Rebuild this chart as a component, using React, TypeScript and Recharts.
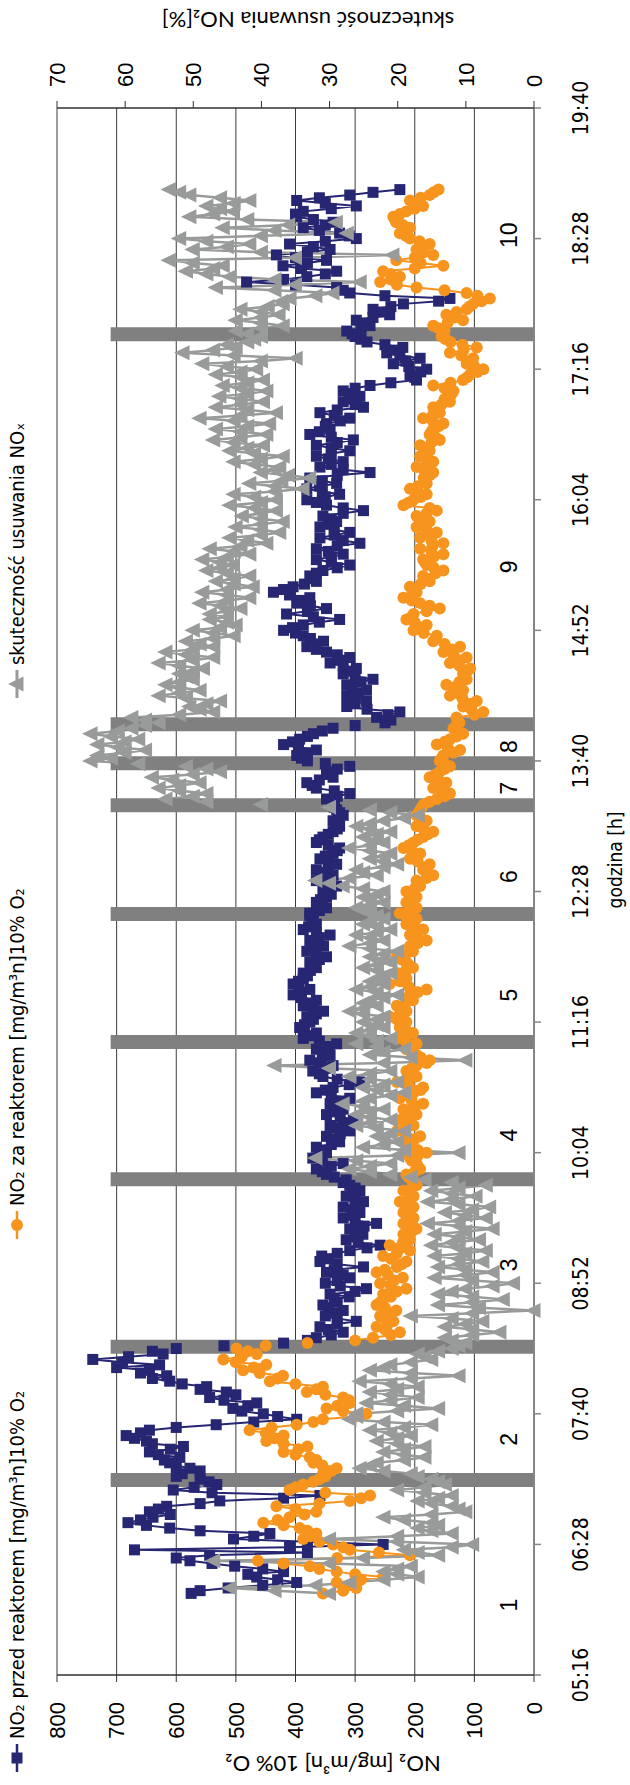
import React from 'react';
import { ComposedChart, Line, XAxis, YAxis, CartesianGrid, ReferenceLine, ReferenceDot } from 'recharts';

// time in minutes after midnight
const minutes = [
  361, 362.5, 364, 365.5, 367, 368.5, 370, 371.5, 373, 374.5, 376, 377.5, 379, 380.5, 382, 383.5, 385, 386.5, 388, 389.5,
  391, 392.5, 394, 395.5, 397, 398.5, 400, 401.5, 403, 404.5, 406, 407.5, 409, 410.5, 412, 413.5, 415, 416.5, 418, 419.5,
  421, 422.5, 424, 425.5, 427, 428.5, 430, 431.5, 433, 434.5, 436, 437.5, 439, 440.5, 442, 443.5, 445, 446.5, 448, 449.5,
  451, 452.5, 454, 455.5, 457, 458.5, 460, 461.5, 463, 464.5, 466, 467.5, 469, 470.5, 472, 473.5, 475, 476.5, 478, 479.5,
  481, 482.5, 484, 485.5, 487, 488.5, 490, 491.5, 493, 494.5, 496, 497.5, 499, 500.5, 502, 503.5, 505, 506.5, 508, 509.5,
  511, 512.5, 514, 515.5, 517, 518.5, 520, 521.5, 523, 524.5, 526, 527.5, 529, 530.5, 532, 533.5, 535, 536.5, 538, 539.5,
  541, 542.5, 544, 545.5, 547, 548.5, 550, 551.5, 553, 554.5, 556, 557.5, 559, 560.5, 562, 563.5, 565, 566.5, 568, 569.5,
  571, 572.5, 574, 575.5, 577, 578.5, 580, 581.5, 583, 584.5, 586, 587.5, 589, 590.5, 592, 593.5, 595, 596.5, 598, 599.5,
  601, 602.5, 604, 605.5, 607, 608.5, 610, 611.5, 613, 614.5, 616, 617.5, 619, 620.5, 622, 623.5, 625, 626.5, 628, 629.5,
  631, 632.5, 634, 635.5, 637, 638.5, 640, 641.5, 643, 644.5, 646, 647.5, 649, 650.5, 652, 653.5, 655, 656.5, 658, 659.5,
  661, 662.5, 664, 665.5, 667, 668.5, 670, 671.5, 673, 674.5, 676, 677.5, 679, 680.5, 682, 683.5, 685, 686.5, 688, 689.5,
  691, 692.5, 694, 695.5, 697, 698.5, 700, 701.5, 703, 704.5, 706, 707.5, 709, 710.5, 712, 713.5, 715, 716.5, 718, 719.5,
  721, 722.5, 724, 725.5, 727, 728.5, 730, 731.5, 733, 734.5, 736, 737.5, 739, 740.5, 742, 743.5, 745, 746.5, 748, 749.5,
  751, 752.5, 754, 755.5, 757, 758.5, 760, 761.5, 763, 764.5, 766, 767.5, 769, 770.5, 772, 773.5, 775, 776.5, 778, 779.5,
  781, 782.5, 784, 785.5, 787, 788.5, 790, 791.5, 793, 794.5, 796, 797.5, 799, 800.5, 802, 803.5, 805, 806.5, 808, 809.5,
  811, 812.5, 814, 815.5, 817, 818.5, 820, 821.5, 823, 824.5, 826, 827.5, 829, 830.5, 832, 833.5, 835, 836.5, 838, 839.5,
  841, 842.5, 844, 845.5, 847, 848.5, 850, 851.5, 853, 854.5, 856, 857.5, 859, 860.5, 862, 863.5, 865, 866.5, 868, 869.5,
  871, 872.5, 874, 875.5, 877, 878.5, 880, 881.5, 883, 884.5, 886, 887.5, 889, 890.5, 892, 893.5, 895, 896.5, 898, 899.5,
  901, 902.5, 904, 905.5, 907, 908.5, 910, 911.5, 913, 914.5, 916, 917.5, 919, 920.5, 922, 923.5, 925, 926.5, 928, 929.5,
  931, 932.5, 934, 935.5, 937, 938.5, 940, 941.5, 943, 944.5, 946, 947.5, 949, 950.5, 952, 953.5, 955, 956.5, 958, 959.5,
  961, 962.5, 964, 965.5, 967, 968.5, 970, 971.5, 973, 974.5, 976, 977.5, 979, 980.5, 982, 983.5, 985, 986.5, 988, 989.5,
  991, 992.5, 994, 995.5, 997, 998.5, 1000, 1001.5, 1003, 1004.5, 1006, 1007.5, 1009, 1010.5, 1012, 1013.5, 1015, 1016.5, 1018, 1019.5,
  1021, 1022.5, 1024, 1025.5, 1027, 1028.5, 1030, 1031.5, 1033, 1034.5, 1036, 1037.5, 1039, 1040.5, 1042, 1043.5, 1045, 1046.5, 1048, 1049.5,
  1051, 1052.5, 1054, 1055.5, 1057, 1058.5, 1060, 1061.5, 1063, 1064.5, 1066, 1067.5, 1069, 1070.5, 1072, 1073.5, 1075, 1076.5, 1078, 1079.5,
  1081, 1082.5, 1084, 1085.5, 1087, 1088.5, 1090, 1091.5, 1093, 1094.5, 1096, 1097.5, 1099, 1100.5, 1102, 1103.5, 1105, 1106.5, 1108, 1109.5,
  1111, 1112.5, 1114, 1115.5, 1117, 1118.5, 1120, 1121.5, 1123, 1124.5, 1126, 1127.5, 1129, 1130.5, 1132, 1133.5, 1135,
];

// NO2 before reactor [mg/m3n] 10% O2
const no2Before = [
  575, 560, 513, 455, 398, 430, 465, 480, 420, 455, 502, 540, 577, 600, 544, 380, 670, 410, 253, 380,
  504, 470, 443, 560, 611, 650, 681, 660, 639, 610, 645, 630, 616, 560, 527, 420, 359, 540, 605, 570,
  532, 545, 560, 600, 590, 560, 577, 600, 611, 620, 594, 630, 645, 610, 588, 640, 650, 670, 684, 660,
  645, 600, 533, 470, 398, 430, 454, 490, 505, 480, 465, 520, 544, 500, 516, 560, 549, 590, 611, 640,
  616, 660, 645, 700, 628, 690, 740, 680, 622, 640, 600, 520, 420, 380, 365, 340, 320, 345, 359, 330,
  298, 330, 350, 335, 320, 345, 354, 330, 335, 310, 342, 300, 281, 325, 350, 330, 309, 320, 348, 335,
  286, 330, 359, 345, 356, 330, 309, 280, 258, 295, 315, 300, 287, 295, 309, 285, 264, 300, 320, 305,
  292, 305, 320, 300, 286, 300, 315, 305, 292, 300, 309, 320, 315, 335, 348, 355, 365, 340, 320, 355,
  371, 360, 348, 355, 365, 340, 326, 335, 348, 325, 309, 330, 342, 320, 303, 325, 348, 335, 320, 330,
  342, 325, 309, 340, 365, 350, 337, 310, 292, 330, 354, 360, 371, 350, 337, 360, 376, 355, 342, 350,
  365, 345, 331, 360, 387, 375, 365, 385, 393, 385, 376, 370, 381, 365, 353, 370, 387, 380, 365, 390,
  404, 390, 376, 395, 404, 395, 387, 380, 387, 375, 365, 372, 376, 360, 348, 365, 381, 370, 353, 365,
  376, 360, 342, 365, 387, 378, 365, 372, 370, 376, 376, 360, 348, 355, 365, 358, 348, 340, 354, 345,
  331, 350, 365, 350, 337, 350, 365, 345, 331, 345, 359, 350, 337, 330, 326, 345, 365, 360, 354, 345,
  337, 330, 326, 333, 337, 328, 320, 326, 331, 335, 340, 335, 348, 330, 309, 335, 365, 372, 381, 360,
  337, 342, 348, 330, 309, 350, 380, 390, 398, 380, 365, 395, 420, 405, 393, 380, 370, 355, 337, 300,
  250, 240, 264, 245, 225, 280, 314, 300, 281, 300, 314, 295, 281, 305, 314, 290, 270, 300, 320, 310,
  298, 320, 342, 325, 309, 330, 348, 365, 381, 370, 353, 375, 387, 400, 420, 405, 387, 360, 326, 370,
  415, 380, 348, 375, 398, 390, 376, 410, 437, 420, 404, 385, 365, 370, 376, 365, 354, 330, 309, 340,
  365, 340, 320, 345, 365, 330, 292, 320, 359, 335, 309, 335, 359, 345, 331, 340, 354, 320, 286, 320,
  348, 365, 381, 350, 326, 355, 381, 360, 331, 355, 376, 330, 275, 320, 359, 340, 320, 345, 365, 340,
  309, 340, 365, 330, 303, 340, 376, 360, 342, 350, 348, 325, 309, 335, 359, 330, 286, 300, 320, 305,
  292, 310, 320, 300, 275, 240, 197, 200, 208, 190, 180, 210, 236, 215, 191, 225, 247, 235, 220, 250,
  280, 290, 300, 305, 314, 290, 275, 285, 298, 270, 242, 255, 270, 240, 219, 160, 141, 250, 309, 320,
  331, 400, 482, 420, 381, 350, 331, 390, 421, 380, 348, 400, 432, 380, 342, 370, 410, 350, 298, 310,
  326, 360, 387, 350, 337, 370, 398, 400, 387, 340, 298, 350, 398, 360, 309, 270, 225,
];

// NO2 after reactor [mg/m3n] 10% O2
const no2After = [
  354, 320, 298, 310, 331, 290, 253, 300, 331, 360, 376, 420, 463, 330, 208, 260, 309, 320, 337, 360,
  387, 375, 365, 380, 393, 420, 454, 430, 410, 385, 365, 400, 432, 360, 309, 290, 275, 350, 410, 400,
  387, 370, 360, 350, 354, 340, 331, 355, 370, 365, 376, 400, 420, 395, 380, 420, 449, 435, 420, 450,
  477, 440, 398, 370, 354, 300, 281, 320, 348, 330, 309, 310, 320, 350, 381, 365, 354, 400, 443, 430,
  421, 460, 488, 470, 449, 500, 521, 490, 465, 480, 499, 450, 380, 300, 270, 240, 225, 250, 264, 245,
  236, 250, 258, 240, 231, 250, 264, 258, 253, 240, 253, 230, 214, 240, 258, 235, 220, 245, 264, 250,
  230, 222, 214, 240, 253, 230, 208, 225, 242, 220, 208, 212, 219, 205, 197, 210, 219, 208, 202, 210,
  219, 210, 202, 215, 225, 210, 202, 210, 219, 205, 197, 200, 205, 210, 214, 200, 191, 195, 197, 205,
  208, 195, 180, 195, 208, 215, 219, 200, 191, 215, 230, 215, 202, 215, 225, 210, 197, 205, 219, 200,
  186, 205, 225, 210, 202, 190, 186, 210, 230, 210, 197, 205, 214, 205, 197, 180, 175, 190, 197, 205,
  214, 205, 197, 215, 230, 215, 203, 215, 225, 220, 214, 230, 242, 225, 214, 222, 230, 215, 203, 210,
  208, 195, 180, 210, 242, 225, 214, 222, 230, 215, 203, 210, 214, 222, 230, 215, 203, 206, 208, 195,
  180, 195, 208, 195, 186, 200, 214, 205, 197, 215, 225, 210, 197, 205, 214, 205, 197, 205, 214, 200,
  191, 195, 197, 180, 169, 178, 186, 180, 175, 195, 208, 200, 191, 205, 219, 210, 202, 195, 186, 178,
  169, 185, 197, 188, 180, 190, 197, 193, 191, 188, 185, 175, 163, 150, 141, 155, 169, 158, 147, 160,
  175, 165, 158, 150, 141, 150, 158, 155, 152, 135, 124, 145, 163, 150, 141, 130, 119, 128, 135, 130,
  125, 128, 130, 100, 85, 105, 119, 105, 96, 120, 141, 130, 119, 135, 147, 125, 113, 116, 119, 112,
  107, 125, 141, 125, 113, 135, 152, 138, 124, 150, 169, 165, 163, 185, 202, 190, 180, 200, 214, 205,
  202, 180, 158, 175, 191, 205, 219, 205, 197, 202, 208, 190, 175, 180, 186, 165, 152, 168, 180, 183,
  186, 168, 152, 172, 191, 170, 152, 172, 191, 175, 163, 180, 197, 185, 175, 188, 197, 180, 163, 175,
  219, 210, 202, 190, 180, 195, 208, 195, 180, 183, 185, 175, 169, 185, 197, 180, 169, 180, 191, 185,
  175, 183, 191, 172, 158, 165, 175, 172, 169, 160, 152, 170, 186, 170, 158, 163, 169, 155, 141, 150,
  141, 138, 135, 150, 169, 140, 119, 112, 107, 95, 85, 100, 113, 108, 102, 122, 141, 118, 96, 120,
  140, 148, 155, 152, 150, 160, 169, 145, 119, 133, 147, 130, 113, 108, 102, 88, 74, 95, 113, 150,
  197, 230, 258, 240, 225, 240, 253, 200, 152, 190, 231, 200, 169, 185, 197, 186, 175, 192, 208, 215,
  225, 216, 208, 220, 231, 233, 236, 225, 214, 200, 186, 197, 208, 190, 175, 168, 160,
];

// NOx removal efficiency [%]
const efficiency = [
  30, 38, 44.6, 32, 27, 22, 17, 20, 22, 20, 18, 30, 47, 25, 14, 17, 19, 12, 9, 20,
  30, 20, 12, 15, 17, 14, 15, 19, 22, 15, 10, 11, 12, 15, 17, 14, 12, 16, 20, 16,
  13, 14, 15, 17, 18, 22, 25.5, 24, 23, 19, 16, 19, 22, 19, 16, 20, 23, 20, 18, 21,
  24, 19, 15, 22, 27, 26, 26, 20, 14, 19, 24.5, 21, 17, 21, 24, 20, 17, 21, 25.5, 18,
  11, 18, 24, 22, 21, 18, 15, 16, 17, 14, 12, 11, 10, 12, 13, 9, 5, 9, 13, 10,
  7.5, 12, 18, 9, 0, 8, 14, 9, 4.5, 9, 14, 12, 10, 6, 3, 9, 14.5, 10, 6, 10,
  14, 11, 7.5, 11, 14.5, 10, 7, 11, 15, 12, 8, 11, 14.5, 10, 6, 11, 15.5, 11, 7, 10,
  13, 9, 6.5, 11, 15.5, 12, 8.5, 12, 15, 11, 7, 12, 16, 18, 21, 24, 27, 24, 21, 26,
  32, 20, 11, 19, 25, 22, 20, 22, 23, 21, 19, 23, 26, 24, 21, 24, 26, 24, 22, 25,
  28, 25, 24, 21, 19, 23, 25, 22, 20, 24, 27, 24, 21, 30, 38, 22, 10, 18, 24, 22,
  19, 23, 26, 23, 21, 24, 26, 24, 22, 23, 25, 23, 22, 25, 27, 25, 23, 25, 24, 22,
  20, 23, 26, 24, 22, 24, 23, 22, 21, 23, 25, 23, 21, 22, 24, 22, 20, 24, 27, 24,
  22, 24, 26, 23, 21, 23, 25, 24, 22, 23, 24, 25, 26, 24, 22, 24, 25, 23, 22, 25,
  28, 30, 32, 27, 23, 25, 26, 22, 20, 22, 24, 22, 21, 24, 27, 24, 22, 23, 25, 23,
  21, 24, 26, 24, 22, 19, 17, 21, 24, 30, 40, 48, 54, 50, 48, 52, 55, 52, 49, 53,
  56, 50, 46, 48, 51, 58, 65, 62, 64, 60, 57, 61, 64, 60, 58, 62, 65, 61, 59, 57,
  55, 57, 59, 52, 47, 49, 50.5, 48, 46, 51, 55, 52, 49, 52, 54, 52, 50, 51, 52, 50,
  48.5, 52, 55, 50, 47, 51, 54, 50, 47, 49, 51, 47, 44, 47, 50, 46, 43.7, 45, 47.5, 45,
  47.5, 45, 43, 46, 49, 45, 41.7, 45, 48.6, 45, 41.2, 44, 46.6, 44, 41.7, 45, 48, 46, 44.1, 46,
  48.6, 45, 41.7, 44, 47.5, 43, 39.2, 42, 44.6, 40, 37.3, 40, 43.7, 40, 36.8, 40, 42.8, 40, 37.8, 41,
  44.6, 40, 37.8, 41, 44, 38, 33.9, 38, 41.7, 37, 32.9, 36, 40, 38, 37.3, 41, 44, 40, 36.8, 41,
  44.6, 42, 39.7, 44, 47, 43, 39.2, 43, 46.6, 42, 38.8, 44, 49, 43, 37.8, 42, 46.6, 43, 39.7, 43,
  46.1, 42, 39.2, 43, 45.6, 42, 39.7, 43, 46.6, 43, 40.7, 45, 48.6, 40, 34.9, 44, 51.5, 47, 43.7, 45,
  42, 41, 40, 42, 43.7, 40, 36.8, 40, 43.7, 40, 37.4, 40, 43, 39, 36.8, 37, 35.8, 32, 29.5, 38,
  46.6, 35, 25.5, 38, 44.6, 48, 51, 47, 45.6, 50, 53.5, 35, 20.7, 40, 50, 45, 41.7, 48, 52, 40,
  27.4, 38, 45.6, 36, 29, 42, 50.5, 47, 44.1, 46, 48, 44, 41.7, 46, 50.5, 52, 53.5,
];

const timeTicks = [316, 388, 460, 532, 604, 676, 748, 820, 892, 964, 1036, 1108, 1180];
const no2Ticks = [0, 100, 200, 300, 400, 500, 600, 700, 800];
const effTicks = [0, 10, 20, 30, 40, 50, 60, 70];

// phase separators (time in minutes) and their height on the NO2 axis
const separatorTimes = [423.5, 497, 589.3, 665, 735.6, 795.5, 818.7, 840.2, 1055.2];
const separatorTop = 710;

const phaseLabels = ['1', '2', '3', '4', '5', '6', '7', '8', '9', '10'];
const phaseTimes = [354.6, 446, 542.1, 613.7, 690.9, 756.2, 804.9, 827.9, 927, 1109.9];
const phaseLabelLevel = 43;

const NAVY = '#262673';
const ORANGE = '#F7941D';
const GRAY = '#999B9B';
const BAR = '#808080';
const GRID = '#3C3C3C';

const NUM_FONT = "'Liberation Sans', Arial, sans-serif";
const NARROW_FONT = "'Liberation Sans Narrow', 'DejaVu Sans Condensed', 'Liberation Sans', sans-serif";
const TITLE_FONT = "Lato, 'Liberation Sans', sans-serif";

const data = minutes.map((t, i) => ({
  t,
  before: no2Before[i],
  after: no2After[i],
  eff: efficiency[i],
}));

const fmtTime = (m: number) => {
  const h = Math.floor(m / 60);
  const mm = Math.round(m - h * 60);
  return `${String(h).padStart(2, '0')}:${String(mm).padStart(2, '0')}`;
};

function SquareDot(props: any) {
  const { cx, cy, index } = props;
  if (cx == null || cy == null) return <g key={`s${index}`} />;
  return <rect key={`s${index}`} x={cx - 5.5} y={cy - 5.5} width={11} height={11} fill={NAVY} />;
}

function CircleDot(props: any) {
  const { cx, cy, index } = props;
  if (cx == null || cy == null) return <g key={`c${index}`} />;
  return <circle key={`c${index}`} cx={cx} cy={cy} r={6} fill={ORANGE} />;
}

function TriangleDot(props: any) {
  const { cx, cy, index } = props;
  if (cx == null || cy == null) return <g key={`t${index}`} />;
  return (
    <polygon
      key={`t${index}`}
      points={`${cx},${cy - 9} ${cx - 7.5},${cy + 6.5} ${cx + 7.5},${cy + 6.5}`}
      fill={GRAY}
    />
  );
}

const W = 1785;
const H = 630;

function Overlay() {
  const legendY = 17;
  const legendFont = { fontFamily: NARROW_FONT, fontSize: 20, fill: '#000' };
  return (
    <svg
      width={W}
      height={H}
      style={{ position: 'absolute', left: 0, top: 0, pointerEvents: 'none' }}
    >
      {/* legend */}
      <line x1={13} x2={41} y1={legendY} y2={legendY} stroke={NAVY} strokeWidth={2.5} />
      <rect x={21.5} y={legendY - 5.5} width={11} height={11} fill={NAVY} />
      <text x={46} y={legendY} dominantBaseline="central" {...legendFont}>
        NO₂ przed reaktorem [mg/m³n]10% O₂
      </text>
      <line x1={546} x2={574} y1={legendY} y2={legendY} stroke={ORANGE} strokeWidth={2.5} />
      <circle cx={560} cy={legendY} r={6} fill={ORANGE} />
      <text x={579} y={legendY} dominantBaseline="central" {...legendFont}>
        NO₂ za reaktorem [mg/m³n]10% O₂
      </text>
      <line x1={1087} x2={1115} y1={legendY} y2={legendY} stroke={GRAY} strokeWidth={3} />
      <polygon
        points={`1101,${legendY - 9} 1093.5,${legendY + 6.5} 1108.5,${legendY + 6.5}`}
        fill={GRAY}
      />
      <text x={1120} y={legendY} dominantBaseline="central" {...legendFont}>
        skuteczność usuwania NOₓ
      </text>

      {/* axis titles */}
      <text
        x={21}
        y={333}
        textAnchor="middle"
        dominantBaseline="central"
        transform="rotate(-90 21 333)"
        fontFamily={TITLE_FONT}
        fontSize={22}
        fill="#000"
      >
        NO₂ [mg/m³n] 10% O₂
      </text>
      <text
        x={1765}
        y={308}
        textAnchor="middle"
        dominantBaseline="central"
        transform="rotate(-90 1765 308)"
        fontFamily={TITLE_FONT}
        fontSize={22}
        fill="#000"
      >
        skuteczność usuwania NO₂[%]
      </text>
      <text
        x={925}
        y={615}
        textAnchor="middle"
        dominantBaseline="central"
        fontFamily={NARROW_FONT}
        fontSize={19}
        fill="#000"
      >
        godzina [h]
      </text>
    </svg>
  );
}

function Chart() {
  return (
    <div style={{ position: 'relative', width: W, height: H, background: '#fff' }}>
      <ComposedChart
        width={W}
        height={H}
        data={data}
        margin={{ top: 57, right: 0, bottom: 0, left: 0 }}
      >
        <CartesianGrid yAxisId="left" vertical={false} stroke={GRID} strokeWidth={1} />
        <XAxis
          dataKey="t"
          type="number"
          domain={[316, 1180]}
          ticks={timeTicks}
          tickFormatter={fmtTime}
          interval={0}
          height={96}
          axisLine={{ stroke: '#868686', strokeWidth: 2 }}
          tickLine={{ stroke: '#868686', strokeWidth: 1.5 }}
          tickSize={7}
          tickMargin={32}
          tick={{ fontFamily: NARROW_FONT, fontSize: 21, fill: '#000' }}
        />
        <YAxis
          yAxisId="left"
          orientation="left"
          type="number"
          domain={[0, 800]}
          ticks={no2Ticks}
          interval={0}
          width={110}
          axisLine={{ stroke: '#303030', strokeWidth: 1.5 }}
          tickLine={{ stroke: '#303030' }}
          tickSize={7}
          tickMargin={20}
          tick={{ fontFamily: NUM_FONT, fontSize: 22, fill: '#000' }}
        />
        <YAxis
          yAxisId="right"
          orientation="right"
          type="number"
          domain={[0, 70]}
          ticks={effTicks}
          interval={0}
          width={108}
          axisLine={{ stroke: '#303030', strokeWidth: 1.5 }}
          tickLine={{ stroke: '#303030' }}
          tickSize={7}
          tickMargin={14}
          tick={{ fontFamily: NUM_FONT, fontSize: 22, fill: '#000' }}
        />
        <Line
          yAxisId="left"
          type="linear"
          dataKey="before"
          stroke={NAVY}
          strokeWidth={2}
          dot={SquareDot}
          activeDot={false}
          isAnimationActive={false}
        />
        <Line
          yAxisId="left"
          type="linear"
          dataKey="after"
          stroke={ORANGE}
          strokeWidth={2}
          dot={CircleDot}
          activeDot={false}
          isAnimationActive={false}
        />
        <Line
          yAxisId="right"
          type="linear"
          dataKey="eff"
          stroke={GRAY}
          strokeWidth={2.5}
          dot={TriangleDot}
          activeDot={false}
          isAnimationActive={false}
        />
        {separatorTimes.map((t) => (
          <ReferenceLine
            key={`sep${t}`}
            yAxisId="left"
            segment={[
              { x: t, y: 0 },
              { x: t, y: separatorTop },
            ]}
            stroke={BAR}
            strokeWidth={14}
            ifOverflow="visible"
          />
        ))}
        {phaseTimes.map((t, i) => (
          <ReferenceDot
            key={`ph${i}`}
            yAxisId="left"
            x={t}
            y={phaseLabelLevel}
            r={0}
            fill="none"
            stroke="none"
            label={{
              value: phaseLabels[i],
              position: 'center',
              fontFamily: NUM_FONT,
              fontSize: 23,
              fill: '#000',
            }}
          />
        ))}
      </ComposedChart>
      <Overlay />
    </div>
  );
}

export default function App() {
  return (
    <div
      style={{
        position: 'absolute',
        left: 0,
        top: 0,
        width: H,
        height: W,
        overflow: 'hidden',
        background: '#fff',
      }}
    >
      <div
        style={{
          position: 'absolute',
          left: 0,
          top: 0,
          width: W,
          height: H,
          transformOrigin: '0 0',
          transform: `translate(0px, ${W}px) rotate(-90deg)`,
        }}
      >
        <Chart />
      </div>
    </div>
  );
}
